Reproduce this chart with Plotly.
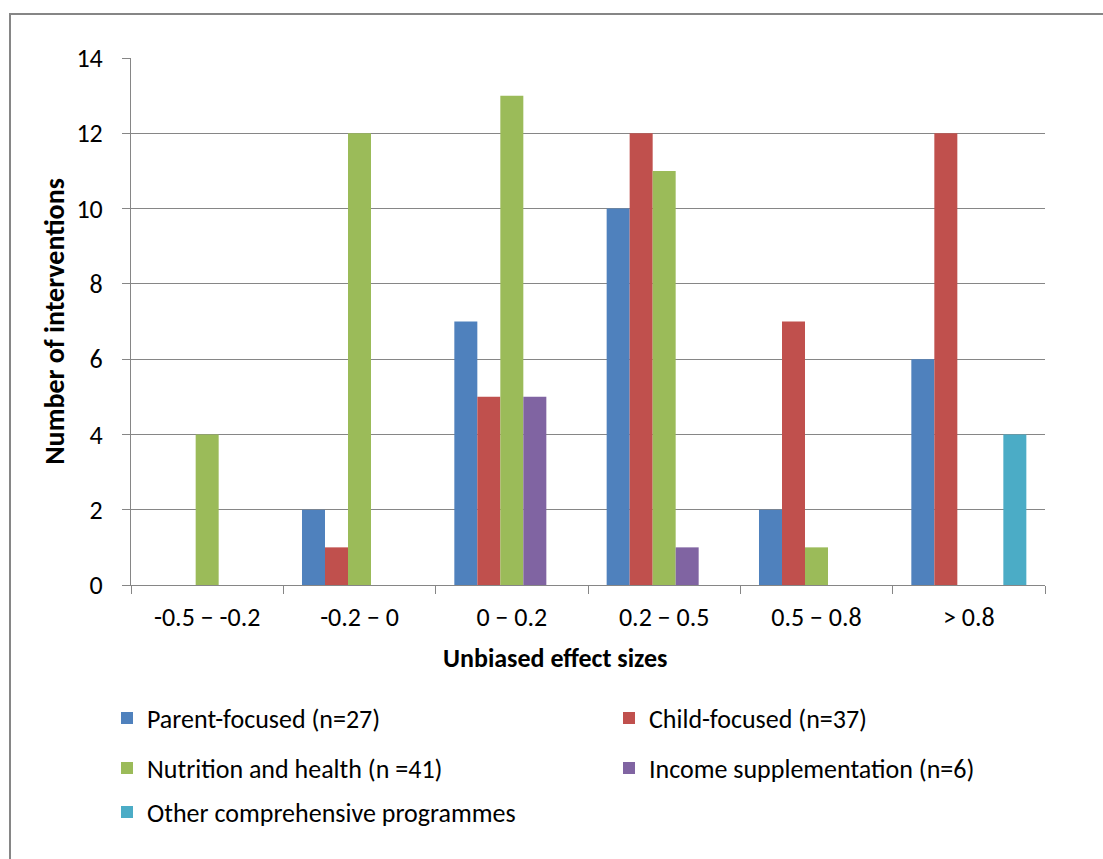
import plotly.graph_objects as go

categories = ["-0.5 \u2212 -0.2", "-0.2 \u2212 0", "0 \u2212 0.2", "0.2 \u2212 0.5", "0.5 \u2212 0.8", "> 0.8"]
parent_focused = [0, 2, 7, 10, 2, 6]
child_focused = [0, 1, 5, 12, 7, 12]
nutrition_health = [4, 12, 13, 11, 1, 0]
income_supp = [0, 0, 5, 1, 0, 0]
other_comp = [0, 0, 0, 0, 0, 4]

series_names = [
    "Parent-focused (n=27)",
    "Child-focused (n=37)",
    "Nutrition and health (n =41)",
    "Income supplementation (n=6)",
    "Other comprehensive programmes",
]
series_values = [parent_focused, child_focused, nutrition_health, income_supp, other_comp]
colors = ["#4F81BD", "#C0504D", "#9BBB59", "#8064A2", "#4BACC6"]
legend_ids = ["legend", "legend", "legend2", "legend2", "legend3"]

FONT = "Carlito, Calibri, Lato, sans-serif"

fig = go.Figure()
for name, vals, col, lg in zip(series_names, series_values, colors, legend_ids):
    fig.add_trace(go.Bar(
        x=categories, y=vals, name=name,
        marker=dict(color=col, line=dict(width=0)),
        legend=lg,
    ))

W, H = 1103, 859
L, T, R, B = 131, 58, 58, 274
pw, ph = W - L - R, H - T - B

def px_x(x):
    return (x - L) / pw

def px_y(y):
    return (H - B - y) / ph

legend_common = dict(
    orientation="h", xanchor="left", yanchor="middle",
    entrywidth=457, entrywidthmode="pixels",
    font=dict(family=FONT, size=26, color="#000000"),
    bgcolor="rgba(0,0,0,0)", traceorder="normal",
    itemclick=False, itemdoubleclick=False,
)

fig.update_layout(
    width=W, height=H,
    margin=dict(l=L, r=R, t=T, b=B, autoexpand=False),
    paper_bgcolor="white", plot_bgcolor="white",
    font=dict(family=FONT, size=26, color="#000000"),
    barmode="group", bargap=0.245, bargroupgap=0,
    showlegend=True,
    legend=dict(x=px_x(107), y=px_y(718), **legend_common),
    legend2=dict(x=px_x(107), y=px_y(768), **legend_common),
    legend3=dict(x=px_x(107), y=px_y(812), **legend_common),
    xaxis=dict(
        type="category", tickson="boundaries",
        showline=True, linecolor="#868686", linewidth=1,
        ticks="outside", ticklen=8, tickcolor="#868686",
        ticklabelstandoff=9,
        showgrid=False, tickfont=dict(family=FONT, size=26),
    ),
    yaxis=dict(
        range=[0, 14], dtick=2,
        showline=True, linecolor="#868686", linewidth=1,
        ticks="outside", ticklen=8, tickcolor="#868686",
        showgrid=True, gridcolor="#868686", gridwidth=1,
        zeroline=False,
        ticklabelstandoff=14,
        tickfont=dict(family=FONT, size=26),
        title=dict(text="<b>Number of interventions</b>", standoff=3,
                   font=dict(family=FONT, size=28)),
    ),
    annotations=[
        dict(text="<b>Unbiased effect sizes</b>", xref="paper", yref="paper",
             x=px_x(555), y=px_y(658), xanchor="center", yanchor="middle",
             showarrow=False, font=dict(family=FONT, size=26)),
    ],
    shapes=[
        dict(type="rect", xref="paper", yref="paper",
             x0=px_x(10), x1=px_x(1120), y0=px_y(880), y1=px_y(14),
             line=dict(color="#868686", width=2), layer="below"),
    ],
)

fig.write_html("out.html")
